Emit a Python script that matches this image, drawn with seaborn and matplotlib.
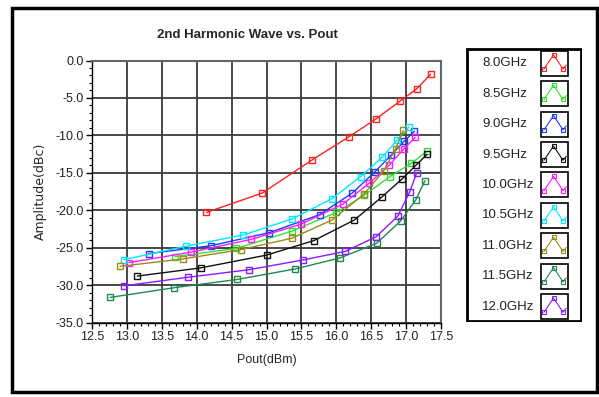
import numpy as np
import pandas as pd
import matplotlib
matplotlib.use("Agg")
import matplotlib.pyplot as plt
from matplotlib.patches import Rectangle
from matplotlib.ticker import MultipleLocator, FormatStrFormatter
import seaborn as sns

freqs = ["8.0GHz", "8.5GHz", "9.0GHz", "9.5GHz", "10.0GHz", "10.5GHz", "11.0GHz", "11.5GHz", "12.0GHz"]
colors = ["#ff2020", "#33e033", "#1f3cff", "#111111", "#ff1aff", "#00e8ff", "#9a8a1a", "#1f8a4f", "#8a1aff"]

pout_80 = [14.14, 14.94, 15.65, 16.18, 16.57, 16.91, 17.15, 17.35]
amp_80 = [-20.3, -17.7, -13.3, -10.2, -7.8, -5.45, -3.8, -1.85]
pout_85 = [13.69, 14.57, 15.36, 16.00, 16.40, 16.77, 17.07, 17.30]
amp_85 = [-26.2, -25.1, -22.8, -20.3, -18.0, -15.5, -13.75, -12.15]
pout_90 = [13.31, 14.20, 15.04, 15.76, 16.23, 16.55, 16.79, 16.97, 17.12]
amp_90 = [-25.8, -24.75, -23.0, -20.6, -17.7, -14.9, -12.6, -10.8, -9.45]
pout_95 = [13.15, 14.06, 15.00, 15.68, 16.26, 16.65, 16.94, 17.14, 17.30]
amp_95 = [-28.8, -27.7, -26.0, -24.05, -21.3, -18.25, -15.85, -14.0, -12.55]
pout_100 = [13.03, 13.92, 14.78, 15.50, 16.09, 16.47, 16.76, 16.97, 17.13]
amp_100 = [-27.0, -25.6, -23.9, -21.85, -19.2, -16.4, -13.95, -11.8, -10.25]
pout_105 = [12.96, 13.85, 14.67, 15.37, 15.94, 16.35, 16.66, 16.87, 17.04]
amp_105 = [-26.6, -24.8, -23.3, -21.15, -18.45, -15.5, -12.9, -10.65, -8.9]
pout_110 = [12.90, 13.81, 14.64, 15.36, 15.94, 16.39, 16.68, 16.85, 16.96]
amp_110 = [-27.5, -26.5, -25.25, -23.75, -21.3, -17.9, -14.75, -11.8, -9.35]
pout_115 = [12.76, 13.68, 14.58, 15.41, 16.06, 16.58, 16.92, 17.14, 17.27]
amp_115 = [-31.65, -30.35, -29.25, -27.85, -26.35, -24.4, -21.45, -18.6, -16.05]
pout_120 = [12.96, 13.88, 14.75, 15.52, 16.13, 16.57, 16.88, 17.05, 17.15]
amp_120 = [-30.1, -28.95, -27.95, -26.65, -25.5, -23.55, -20.8, -17.6, -15.05]

pouts = [pout_80, pout_85, pout_90, pout_95, pout_100, pout_105, pout_110, pout_115, pout_120]
amps = [amp_80, amp_85, amp_90, amp_95, amp_100, amp_105, amp_110, amp_115, amp_120]

x_ticks = [12.5, 13.0, 13.5, 14.0, 14.5, 15.0, 15.5, 16.0, 16.5, 17.0, 17.5]
y_ticks = [0.0, -5.0, -10.0, -15.0, -20.0, -25.0, -30.0, -35.0]

sns.set_style("white")
plt.rcParams["font.family"] = ["Liberation Sans Narrow", "Liberation Sans", "DejaVu Sans"]

W, H = 599, 397
fig = plt.figure(figsize=(W / 100, H / 100), dpi=100)

# outer frame
fig.patches.append(Rectangle((12 / W, 1 - 392 / H), 585 / W, 384 / H, transform=fig.transFigure,
                             fill=False, edgecolor="black", linewidth=2.5, zorder=0))

ax = fig.add_axes([92 / W, 1 - 322.5 / H, 349 / W, 262 / H])
for f, c, xs, ys in zip(freqs, colors, pouts, amps):
    df = pd.DataFrame({"Pout": xs, "Amp": ys})
    sns.lineplot(data=df, x="Pout", y="Amp", ax=ax, color=c, sort=False, estimator=None,
                 marker="s", markersize=4.5, mfc="none", mec=c, mew=1.0, linewidth=1.0, zorder=3)

ax.set_xlim(12.5, 17.5)
ax.set_ylim(-35, 0)
ax.xaxis.set_major_locator(MultipleLocator(0.5))
ax.xaxis.set_minor_locator(MultipleLocator(0.1))
ax.yaxis.set_major_locator(MultipleLocator(5))
ax.yaxis.set_minor_locator(MultipleLocator(1))
ax.xaxis.set_major_formatter(FormatStrFormatter("%.1f"))
ax.yaxis.set_major_formatter(FormatStrFormatter("%.1f"))
ax.tick_params(axis="both", which="major", direction="out", length=4, width=1, color="black",
               labelsize=9, pad=2, bottom=True, left=True)
ax.tick_params(axis="both", which="minor", direction="out", length=2.5, width=0.8, color="black",
               bottom=True, left=True)
ax.grid(True, which="major", color="#3a3a3a", linewidth=1.3, zorder=1)
ax.set_axisbelow(True)
for s in ["top", "right"]:
    ax.spines[s].set_color("#666666")
    ax.spines[s].set_linewidth(1.5)
for s in ["left", "bottom"]:
    ax.spines[s].set_color("black")
    ax.spines[s].set_linewidth(1.0)
for lab in ax.get_xticklabels() + ax.get_yticklabels():
    lab.set_color("#222222")

ax.set_xlabel("Pout(dBm)", fontsize=9, labelpad=8)
ax.set_ylabel("Amplitude(dBc)", fontsize=9, labelpad=6, family="DejaVu Sans")
fig.text(247 / W, 1 - 35 / H, "2nd Harmonic Wave vs. Pout", ha="center", va="center",
         fontsize=9.5, fontweight="bold", family=["Liberation Sans", "DejaVu Sans"])

# legend panel
lx0, lx1, ly0, ly1 = 466, 582, 48, 322
lax = fig.add_axes([lx0 / W, 1 - ly1 / H, (lx1 - lx0) / W, (ly1 - ly0) / H])
lax.set_xlim(lx0, lx1)
lax.set_ylim(ly1, ly0)
lax.axis("off")
lax.add_patch(Rectangle((lx0 + 1, ly0 + 1), lx1 - lx0 - 2, ly1 - ly0 - 2, fill=False,
                        edgecolor="black", linewidth=2.0))
shape_x = np.array([0.08, 0.46, 0.84, 0.97])
shape_y = np.array([0.73, 0.16, 0.73, 0.57])
for i, (f, c) in enumerate(zip(freqs, colors)):
    cy = 63.3 + i * 30.4
    lax.text(482, cy, f, ha="left", va="center", fontsize=9.5, color="#222222")
    bx, by, bw, bh = 541, cy - 12.5, 27, 25
    lax.add_patch(Rectangle((bx, by), bw, bh, facecolor="white", edgecolor="black", linewidth=1.2))
    lax.plot(bx + 1 + shape_x * (bw - 2), by + shape_y * bh, color=c, linewidth=0.8)
    lax.plot(bx + 1 + shape_x[:3] * (bw - 2), by + shape_y[:3] * bh, linestyle="none",
             marker="s", markersize=3.2, mfc="none", mec=c, mew=0.8)

fig.savefig("out.png", dpi=100)
